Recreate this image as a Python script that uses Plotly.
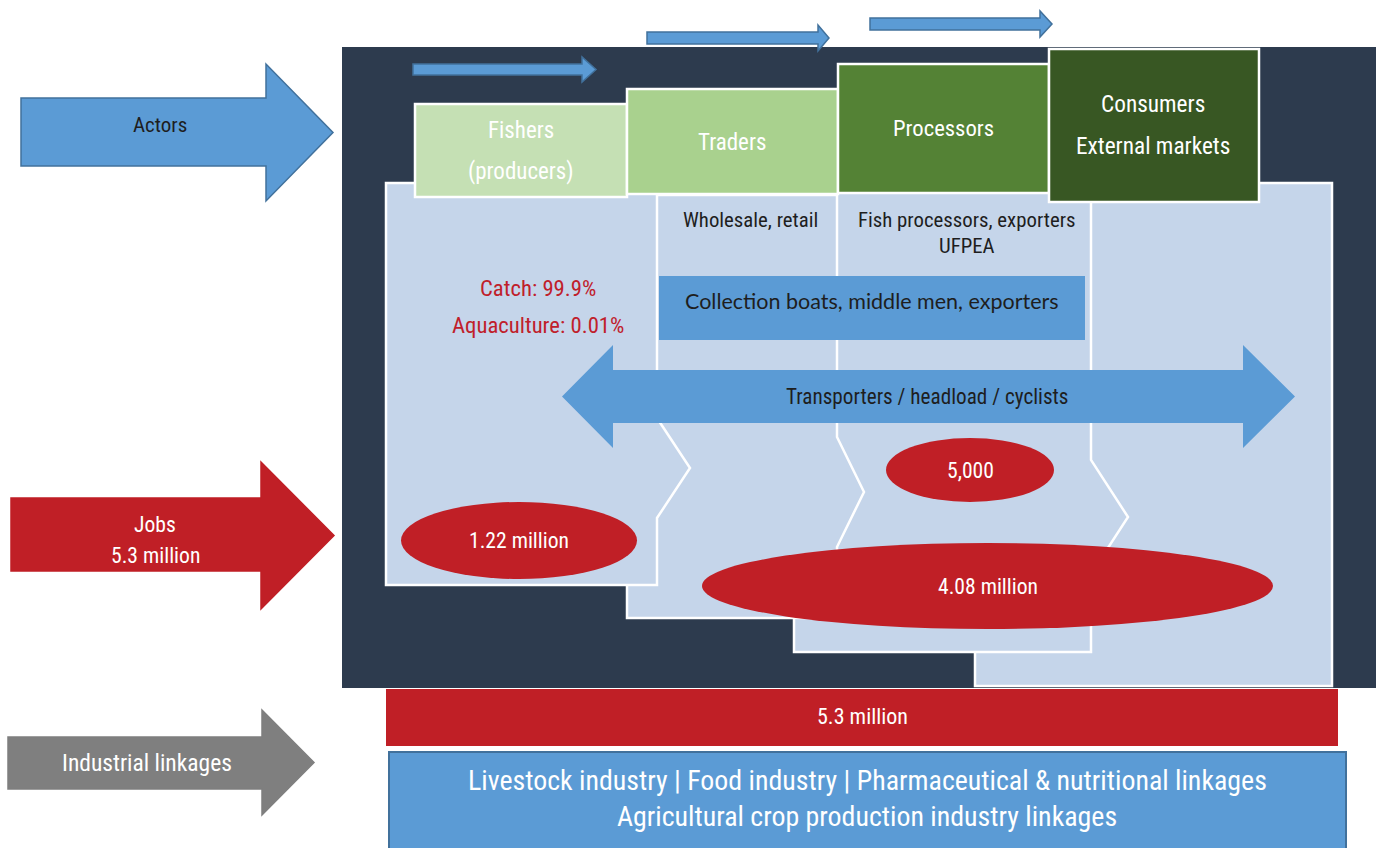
import plotly.graph_objects as go

W, H = 1379, 848

# ---------------- data (labels & values) ----------------
actor_lines = [["Fishers", "(producers)"], ["Traders"], ["Processors"], ["Consumers", "External markets"]]
actor_details = [[], ["Wholesale, retail"], ["Fish processors, exporters", "UFPEA"], []]
production_split = ["Catch: 99.9%", "Aquaculture: 0.01%"]
job_labels = ["1.22 million", "5,000", "4.08 million"]
total_jobs = "5.3 million"
row_labels = [["Actors"], ["Jobs", "5.3 million"], ["Industrial linkages"]]
intermediaries = "Collection boats, middle men, exporters"
transport = "Transporters / headload / cyclists"
linkages = ["Livestock industry | Food industry | Pharmaceutical & nutritional linkages",
            "Agricultural crop production industry linkages"]

# ---------------- styling ----------------
DARK = "#2D3B4E"
PANEL = "#C5D5EA"
GREENS = ["#C5E0B4", "#A9D18E", "#548235", "#385723"]
BLUE = "#5B9BD5"
BLUE_EDGE = "#41719C"
RED = "#C01F26"
RED_TEXT = "#C0202A"
GREY = "#7F7F7F"
TXT_DARK = "#1E1E1E"
NARROW = "Roboto Condensed, Liberation Sans Narrow, DejaVu Sans Condensed, Arial Narrow, sans-serif"
HUM = "Lato, Open Sans, sans-serif"

# ---------------- geometry (pixel layout) ----------------
box_geo = [(415, 627, 104, 197), (627, 838, 89, 194), (838, 1049, 64, 193), (1049, 1259, 49, 202)]
actor_text_y = [[130, 171], [142], [128], [104, 146]]
actor_text_x = [521, 732, 943, 1153]
detail_text_x = [0, 750, 967, 0]
detail_text_y = [[], [220], [220, 246], []]
panel_geo = [
    (386, 657, 183, 585, (418, 690, 468, 518)),
    (627, 837, 195, 618, (437, 864, 492, 547)),
    (794, 1091, 190, 652, (460, 1128, 517, 574)),
    (975, 1332, 183, 686, None),
]
ellipse_geo = [(401, 637, 502, 579), (886, 1054, 438, 502), (702, 1273, 543, 629)]
top_arrows = [(413, 582, 596, 64, 75, 57, 82), (647, 818, 829, 32, 44, 25, 51), (870, 1040, 1052, 18, 30, 11, 37)]
row_arrows = [(21, 266, 333, 98, 166, 64, 201), (11, 261, 334, 498, 571, 462, 609), (8, 262, 314, 737, 789, 710, 815)]
row_colors = [BLUE, RED, GREY]
row_edges = [BLUE_EDGE, RED, GREY]
row_text_colors = [TXT_DARK, "white", "white"]
row_text_pos = [(160, [125]), (155, [524, 555]), (147, [763])]


def right_arrow(x0, xb, xt, sy0, sy1, hy0, hy1):
    yc = (hy0 + hy1) / 2
    return (f"M {x0},{sy0} L {xb},{sy0} L {xb},{hy0} L {xt},{yc} "
            f"L {xb},{hy1} L {xb},{sy1} L {x0},{sy1} Z")


def panel_path(x0, x1, y0, y1, bump):
    if bump is None:
        return f"M {x0},{y0} L {x1},{y0} L {x1},{y1} L {x0},{y1} Z"
    bt, tx, ty, bb = bump
    return (f"M {x0},{y0} L {x1},{y0} L {x1},{bt} L {tx},{ty} L {x1},{bb} "
            f"L {x1},{y1} L {x0},{y1} Z")


shapes = []
ann = []


def text(x, y, s, size, color, family=NARROW):
    ann.append(dict(x=x, y=y, text=s, showarrow=False, xanchor="center", yanchor="middle",
                    font=dict(size=size, color=color, family=family)))


shapes.append(dict(type="rect", x0=342, x1=1376, y0=47, y1=688, fillcolor=DARK, line=dict(width=0)))

for geo in reversed(panel_geo):
    shapes.append(dict(type="path", path=panel_path(*geo), fillcolor=PANEL,
                       line=dict(color="white", width=2.5)))

for (x0, x1, y0, y1), c in zip(box_geo, GREENS):
    shapes.append(dict(type="rect", x0=x0, x1=x1, y0=y0, y1=y1, fillcolor=c,
                       line=dict(color="white", width=2.5)))

shapes.append(dict(type="rect", x0=659, x1=1085, y0=276, y1=340, fillcolor=BLUE, line=dict(width=0)))

xl, xlb, xrb, xr, sy0, sy1, hy0, hy1 = 562, 613, 1243, 1295, 370, 423, 345, 448
yc = (hy0 + hy1) / 2
shapes.append(dict(type="path",
                   path=(f"M {xl},{yc} L {xlb},{hy0} L {xlb},{sy0} L {xrb},{sy0} L {xrb},{hy0} "
                         f"L {xr},{yc} L {xrb},{hy1} L {xrb},{sy1} L {xlb},{sy1} L {xlb},{hy1} Z"),
                   fillcolor=BLUE, line=dict(width=0)))

for (x0, x1, y0, y1) in ellipse_geo:
    shapes.append(dict(type="circle", x0=x0, x1=x1, y0=y0, y1=y1, fillcolor=RED, line=dict(width=0)))

for a in top_arrows:
    shapes.append(dict(type="path", path=right_arrow(*a), fillcolor=BLUE,
                       line=dict(color=BLUE_EDGE, width=1.5)))

for a, c, e in zip(row_arrows, row_colors, row_edges):
    shapes.append(dict(type="path", path=right_arrow(*a), fillcolor=c,
                       line=dict(color=e, width=1.5)))

shapes.append(dict(type="rect", x0=386, x1=1338, y0=689, y1=746, fillcolor=RED, line=dict(width=0)))
shapes.append(dict(type="rect", x0=389, x1=1346, y0=752, y1=852, fillcolor=BLUE,
                   line=dict(color=BLUE_EDGE, width=2)))

# ---------------- texts ----------------
actor_sizes = [23, 23, 22.7, 23.3]
for lines, ys, x, fs in zip(actor_lines, actor_text_y, actor_text_x, actor_sizes):
    for s, y in zip(lines, ys):
        text(x, y, s, fs, "white")
for lines, ys, x in zip(actor_details, detail_text_y, detail_text_x):
    for s, y in zip(lines, ys):
        text(x, y, s, 20.8, TXT_DARK)

text(538, 288, production_split[0], 22.7, RED_TEXT)
text(538, 325, production_split[1], 22.7, RED_TEXT)

text(872, 301, intermediaries, 21.5, TXT_DARK, HUM)
text(927, 396, transport, 21.2, TXT_DARK)

for (x0, x1, y0, y1), s in zip(ellipse_geo, job_labels):
    text((x0 + x1) / 2, (y0 + y1) / 2, s, 21.6, "white")

row_sizes = [21, 21.6, 23.5]
for lines, (x, ys), c, fs in zip(row_labels, row_text_pos, row_text_colors, row_sizes):
    for s, y in zip(lines, ys):
        text(x, y, s, fs, c)

text(862, 716, total_jobs, 22, "white")
text(867, 780, linkages[0], 27.9, "white")
text(867, 816, linkages[1], 27.9, "white")

fig = go.Figure()
fig.update_layout(
    width=W, height=H,
    margin=dict(l=0, r=0, t=0, b=0),
    paper_bgcolor="white", plot_bgcolor="white",
    xaxis=dict(range=[0, W], visible=False, fixedrange=True),
    yaxis=dict(range=[H, 0], visible=False, fixedrange=True),
    shapes=shapes, annotations=ann, showlegend=False,
)
fig.write_html("out.html", config={"displayModeBar": False},
               post_script="document.body.style.margin='0px';document.body.style.overflow='hidden';")
